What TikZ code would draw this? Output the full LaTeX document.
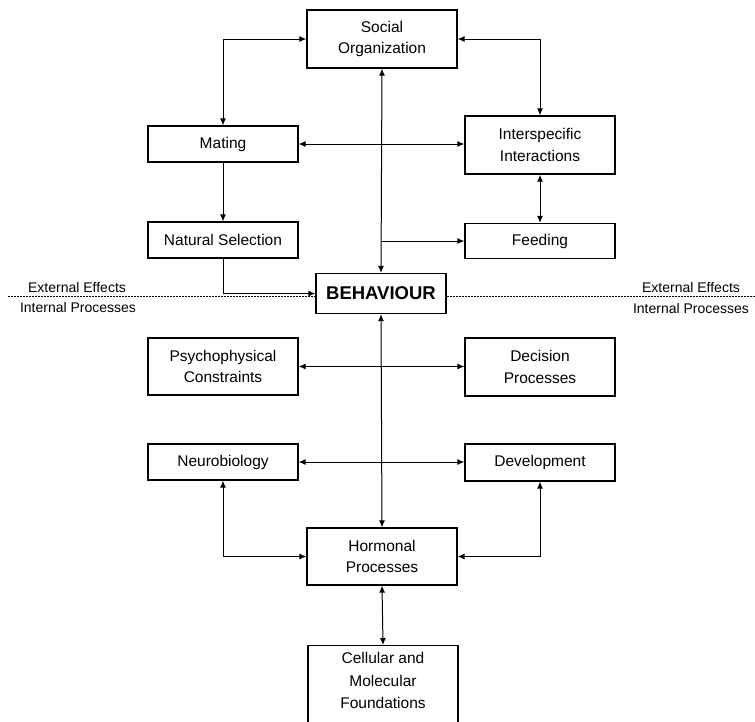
\documentclass[tikz,border=0pt]{standalone}
\usepackage{fontspec}
\setmainfont{Liberation Sans}
\usetikzlibrary{arrows.meta}
\begin{document}
\begin{tikzpicture}[x=1pt,y=-1pt,
  box/.style={draw,line width=1.3pt,minimum width=150pt,align=center,
    font=\fontsize{15.5}{21.5}\selectfont,inner sep=0pt},
  link/.style={line width=1pt,{Latex[length=7pt,width=6pt]}-{Latex[length=7pt,width=6pt]}},
  onelink/.style={line width=1pt,-{Latex[length=7pt,width=6pt]}},
  side/.style={font=\fontsize{14}{16}\selectfont,inner sep=0pt}]
\useasboundingbox (0,0) rectangle (755,721);
\clip (0,0) rectangle (755,721);

% boxes
\node[box,minimum height=58pt] (social) at (382,39) {Social\\Organization};
\node[box,minimum height=36pt] (mating) at (223,144) {Mating};
\node[box,minimum height=58pt] (inter) at (540,145) {Interspecific\\Interactions};
\node[box,minimum height=36pt] (natsel) at (223,240) {Natural Selection};
\node[box,minimum height=35pt] (feed) at (540,241) {Feeding};
\node[box,minimum width=130pt,minimum height=40pt,font=\fontsize{18.5}{20}\selectfont\bfseries] (behav) at (381,293.5) {BEHAVIOUR};
\node[box,minimum height=57pt] (psy) at (223,366.5) {Psychophysical\\Constraints};
\node[box,minimum height=58pt] (dec) at (540,367) {Decision\\Processes};
\node[box,minimum height=36pt] (neuro) at (223,462) {Neurobiology};
\node[box,minimum height=37pt] (dev) at (540,462.5) {Development};
\node[box,minimum height=57pt] (horm) at (382,556.5) {Hormonal\\Processes};
% the lowest box runs on past the bottom edge
\node[box,anchor=north,inner ysep=7pt,font=\fontsize{15.5}{22.5}\selectfont] (cell) at (383,645) {Cellular and\\Molecular\\Foundations\\~};

% divider between external effects and internal processes
\coordinate (dl) at (8,296);
\coordinate (dr) at (755,296);
\draw[dash pattern=on 2pt off 1pt,line width=0.8pt] (dl) -- (dl -| behav.west);
\draw[dash pattern=on 2pt off 1pt,line width=0.8pt] (dr -| behav.east) -- (dr);
\node[side] (extL) at (77,287) {External Effects};
\node[side] (intL) at (78,307) {Internal Processes};
\node[side] (extR) at (691,287) {External Effects};
\node[side] (intR) at (691,308) {Internal Processes};

% connectors
\draw[link] (mating.north) |- (social.west);
\draw[link] (social.east) -| (inter.north);
\draw[link] (mating.east) -- (mating.east -| inter.west);
\draw[link] (social.south) -- (behav.north);
\draw[onelink] (social.south |- feed.west) -- (feed.west);
\draw[link] (inter.south) -- (feed.north);
\draw[onelink] (mating.south) -- (natsel.north);
\draw[onelink] (natsel.south) |- (behav.west);
\draw[link] (behav.south) -- (horm.north);
\draw[link] (psy.east) -- (psy.east -| dec.west);
\draw[link] (neuro.east) -- (neuro.east -| dev.west);
\draw[link] (neuro.south) |- (horm.west);
\draw[link] (dev.south) |- (horm.east);
\draw[link] (horm.south) -- (cell.north);
\end{tikzpicture}
\end{document}
